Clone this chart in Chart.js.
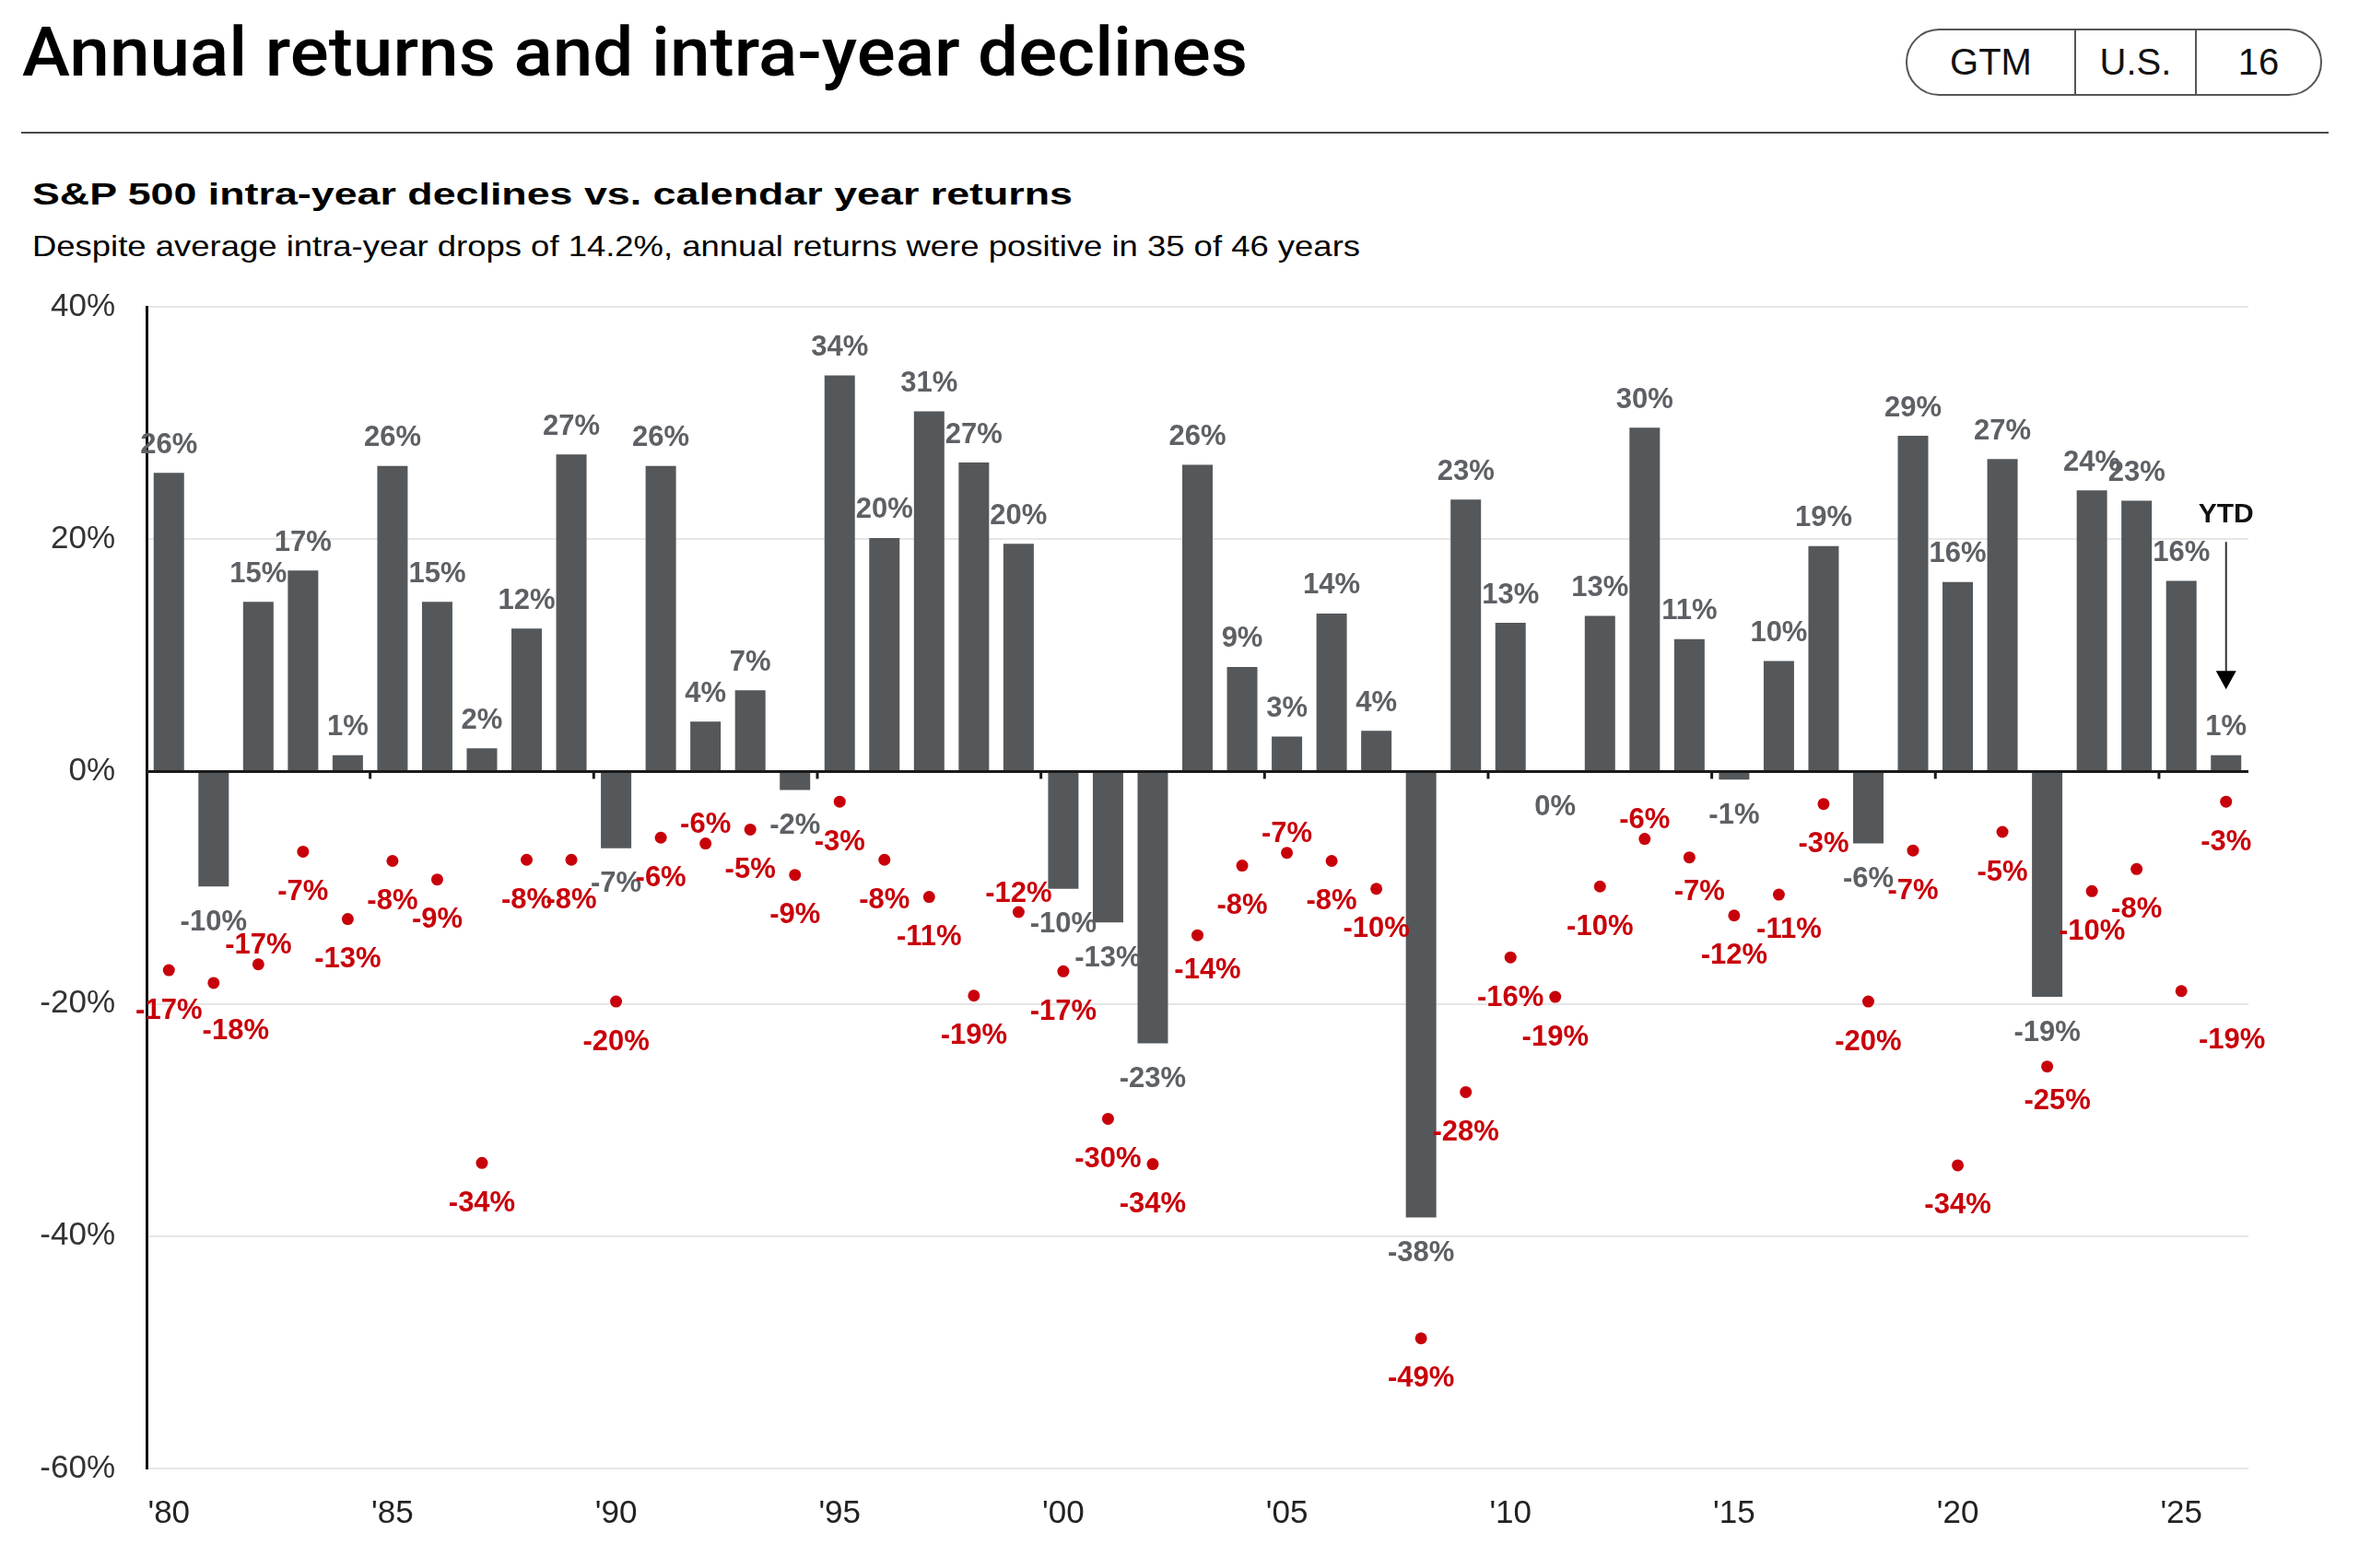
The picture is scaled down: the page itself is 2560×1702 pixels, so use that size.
<!DOCTYPE html>
<html>
<head>
<meta charset="utf-8">
<script src="https://cdn.jsdelivr.net/npm/chart.js@4.4.1/dist/chart.umd.min.js"></script>
<style>
html,body{margin:0;padding:0;background:#fff;}
body{width:2560px;height:1702px;position:relative;overflow:hidden;font-family:'Liberation Sans',Arial,sans-serif;color:#000;}
.t{position:absolute;white-space:nowrap;line-height:1;transform-origin:0 0;display:inline-block;}
#title{left:24px;top:20px;font-size:74px;font-weight:500;font-family:Roboto,'Liberation Sans',Arial,sans-serif;}
#rule{position:absolute;left:23px;top:143px;width:2504px;height:2px;background:#4a4a4a;}
#sub1{left:35px;top:193px;font-size:34px;font-weight:bold;}
#sub2{left:35px;top:251px;font-size:32px;}
#pill{position:absolute;left:2068px;top:31px;width:452px;height:73px;box-sizing:border-box;border:2px solid #555;border-radius:37px;display:flex;overflow:hidden;}
#pill div{display:flex;align-items:center;justify-content:center;font-size:40px;color:#111;height:100%;box-sizing:border-box;}
#chart{position:absolute;left:0;top:0;}
</style>
</head>
<body>
<div id="title" class="t">Annual returns and intra-year declines</div>
<div id="pill"><div style="width:181px;">GTM</div><div style="width:133px;border-left:2px solid #555;border-right:2px solid #555;">U.S.</div><div style="flex:1;">16</div></div>
<div id="rule"></div>
<div id="sub1" class="t">S&amp;P 500 intra-year declines vs. calendar year returns</div>
<div id="sub2" class="t">Despite average intra-year drops of 14.2%, annual returns were positive in 35 of 46 years</div>
<canvas id="chart" width="2560" height="1702"></canvas>
<script>
// ---- Data ----
const years = [1980,1981,1982,1983,1984,1985,1986,1987,1988,1989,
               1990,1991,1992,1993,1994,1995,1996,1997,1998,1999,
               2000,2001,2002,2003,2004,2005,2006,2007,2008,2009,
               2010,2011,2012,2013,2014,2015,2016,2017,2018,2019,
               2020,2021,2022,2023,2024,2025,2026];
const annualReturns = [25.7,-9.9,14.6,17.3,1.4,26.3,14.6,2.0,12.3,27.3,
                       -6.6,26.3,4.3,7.0,-1.6,34.1,20.1,31.0,26.6,19.6,
                       -10.1,-13.0,-23.4,26.4,9.0,3.0,13.6,3.5,-38.4,23.4,
                       12.8,0.0,13.4,29.6,11.4,-0.7,9.5,19.4,-6.2,28.9,
                       16.3,26.9,-19.4,24.2,23.3,16.4,1.4];
const intraYearDeclines = [-17.1,-18.2,-16.6,-6.9,-12.7,-7.7,-9.3,-33.7,-7.6,-7.6,
                           -19.8,-5.7,-6.2,-5.0,-8.9,-2.6,-7.6,-10.8,-19.3,-12.1,
                           -17.2,-29.9,-33.8,-14.1,-8.1,-7.0,-7.7,-10.1,-48.8,-27.6,
                           -16.0,-19.4,-9.9,-5.8,-7.4,-12.4,-10.6,-2.8,-19.8,-6.8,
                           -33.9,-5.2,-25.4,-10.3,-8.4,-18.9,-2.6];
const yTickValues = [-60,-40,-20,0,20,40];
const ytdLabel = 'YTD';
// label placement codes for the decline labels (b=below, a=above, r/R/F=below-right)
const declineLabelPlacement = ['b','R','a','b','b','b','b','b','b','b',
                               'b','b','a','b','b','b','b','b','b','a',
                               'b','b','b','r','b','a','b','b','b','b',
                               'b','b','b','a','r','b','r','b','b','b',
                               'b','b','r','b','b','F','b'];

const FAMILY = '"Liberation Sans", Arial, sans-serif';
const placeOffsets = {b:[0,44], a:[0,-20], r:[11,38], R:[24,53], F:[55,54]};

const labelPlugin = {
  id: 'customLabels',
  afterDatasetsDraw(chart) {
    const ctx = chart.ctx, xs = chart.scales.x, ys = chart.scales.y, ca = chart.chartArea;
    const y0 = ys.getPixelForValue(0);
    ctx.save();
    // zero line
    ctx.strokeStyle = '#1a1a1a';
    ctx.lineWidth = 3;
    ctx.beginPath(); ctx.moveTo(ca.left, y0); ctx.lineTo(ca.right, y0); ctx.stroke();
    // small tick marks at 5-year boundaries
    years.forEach((yr, i) => {
      if (i > 0 && yr % 5 === 0) {
        const x = (xs.getPixelForValue(i - 1) + xs.getPixelForValue(i)) / 2;
        ctx.beginPath(); ctx.moveTo(x, y0); ctx.lineTo(x, y0 + 8); ctx.stroke();
      }
    });
    ctx.textAlign = 'center';
    ctx.textBaseline = 'middle';
    ctx.font = 'bold 31px ' + FAMILY;
    // bar labels
    const bars = chart.getDatasetMeta(0).data;
    bars.forEach((b, i) => {
      const v = annualReturns[i];
      const r = Math.round(v);
      ctx.fillStyle = '#5d6064';
      const y = v > 0 ? b.y - 30 : b.y + 39;
      ctx.fillText((r === 0 ? 0 : r) + '%', b.x, y);
    });
    // decline labels
    const pts = chart.getDatasetMeta(1).data;
    pts.forEach((p, i) => {
      const off = placeOffsets[declineLabelPlacement[i]] || placeOffsets.b;
      ctx.fillStyle = '#c8000a';
      ctx.fillText(Math.round(intraYearDeclines[i]) + '%', p.x + off[0], p.y + off[1]);
    });
    // YTD annotation over the last bar
    const last = years.length - 1;
    const xl = xs.getPixelForValue(last);
    const y20 = ys.getPixelForValue(20);
    ctx.fillStyle = '#111';
    ctx.font = 'bold 30px ' + FAMILY;
    ctx.fillText(ytdLabel, xl, y20 - 26);
    ctx.strokeStyle = '#333';
    ctx.lineWidth = 2;
    const tipY = y20 + 163;
    ctx.beginPath(); ctx.moveTo(xl, y20 + 3); ctx.lineTo(xl, tipY - 18); ctx.stroke();
    ctx.fillStyle = '#000';
    ctx.beginPath(); ctx.moveTo(xl - 11, tipY - 20); ctx.lineTo(xl + 11, tipY - 20); ctx.lineTo(xl, tipY); ctx.closePath(); ctx.fill();
    ctx.restore();
  }
};

new Chart(document.getElementById('chart'), {
  data: {
    labels: years.map(String),
    datasets: [
      { type: 'bar', label: 'Calendar year return', data: annualReturns,
        backgroundColor: '#55585b', barPercentage: 0.68, categoryPercentage: 1, order: 2 },
      { type: 'line', label: 'Intra-year decline', data: intraYearDeclines, showLine: false,
        pointRadius: 6.5, pointHoverRadius: 6.5, pointBackgroundColor: '#c8000a',
        pointBorderWidth: 0, order: 1 }
    ]
  },
  options: {
    responsive: false,
    animation: false,
    layout: { padding: { top: 333, right: 120, left: 0, bottom: 0 } },
    plugins: { legend: { display: false }, tooltip: { enabled: false } },
    scales: {
      x: {
        offset: true,
        grid: { display: false, drawTicks: false },
        border: { display: false },
        ticks: {
          autoSkip: false, maxRotation: 0, minRotation: 0, padding: 28,
          color: '#222', font: { size: 35, family: FAMILY },
          callback: (v, i) => years[i] % 5 === 0 ? "'" + String(years[i]).slice(2) : ''
        },
        afterFit: s => { s.height = 108; }
      },
      y: {
        min: -60, max: 40,
        afterBuildTicks: s => { s.ticks = yTickValues.map(v => ({ value: v })); },
        ticks: { padding: 34, color: '#333', font: { size: 35, family: FAMILY }, callback: v => v + '%' },
        grid: { color: c => (c.tick && c.tick.value === 0) ? 'rgba(0,0,0,0)' : '#e6e6e6', lineWidth: 2, drawTicks: false },
        border: { display: true, color: '#111', width: 3 },
        afterFit: s => { s.width = 159; }
      }
    }
  },
  plugins: [labelPlugin]
});

// fit header text widths to the reference layout
function fitWidth(id, target) {
  const el = document.getElementById(id);
  const w = el.getBoundingClientRect().width;
  if (w > 0) el.style.transform = 'scaleX(' + (target / w) + ')';
}
(document.fonts ? document.fonts.ready : Promise.resolve()).then(() => {
  fitWidth('title', 1330);
  fitWidth('sub1', 1129);
  fitWidth('sub2', 1441);
});
</script>
</body>
</html>
